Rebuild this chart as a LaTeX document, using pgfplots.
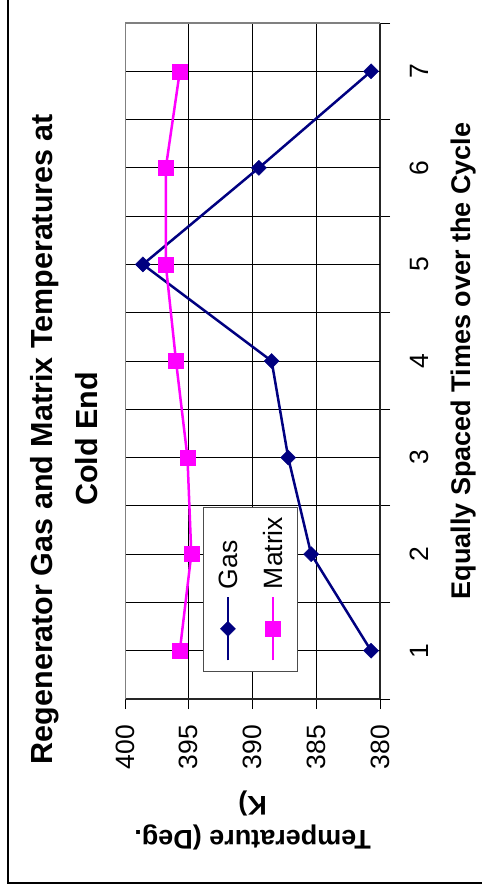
\documentclass[border=0pt]{standalone}
\usepackage{pgfplots}
\pgfplotsset{compat=1.18}
\usepackage{fontspec}
\setmainfont{Liberation Sans}
\definecolor{gasblue}{RGB}{0,0,128}
\definecolor{matmag}{RGB}{255,0,255}
\newcommand\tickfont{\fontsize{26.5}{30}\selectfont}
\newcommand\labfont{\bfseries\fontsize{27}{34}\selectfont}
\newcommand\titfont{\bfseries\fontsize{30.5}{36}\selectfont}
\begin{document}
\begin{tikzpicture}[x=1pt,y=1pt]
\useasboundingbox (0,0) rectangle (482,892);
\draw[line width=2.7pt] (8,893) -- (8,9) -- (483,9);
\begin{scope}[rotate=90,transform shape]
\begin{axis}[
  at={(193pt,-380pt)}, anchor=south west,
  scale only axis, width=676pt, height=255pt,
  xmin=0.5, xmax=7.5, ymin=380, ymax=400,
  axis x line*=bottom, axis y line*=left,
  axis line style={black!85, line width=1.5pt},
  /pgf/number format/assume math mode=true,
  xtick={0.5,1.5,...,7.5},
  xticklabels={},
  extra x ticks={1,2,3,4,5,6,7},
  extra x tick labels={1,2,3,4,5,6,7},
  extra x tick style={grid=major, major tick length=0pt},
  ytick={380,385,...,400},
  tick align=outside, major tick length=10pt,
  tick style={black, line width=0.8pt},
  ymajorgrids, xmajorgrids,
  major grid style={black, line width=0.8pt},
  tick label style={font=\tickfont},
  xticklabel style={anchor=north, inner sep=0pt, yshift=-30pt, font=\tickfont},
  yticklabel style={anchor=east, inner sep=0pt, xshift=-16pt, font=\tickfont},
  label style={font=\labfont},
  xlabel={Equally Spaced Times over the Cycle},
  xlabel style={at={(axis description cs:0.5,0)}, anchor=base, yshift=-90pt},
  ylabel={Temperature (Deg.\\K)},
  ylabel style={at={(axis description cs:-0.179,0.5)}, anchor=center, align=center},
  legend style={at={(axis description cs:0.040,0.694)}, anchor=north west,
    draw=black!70, line width=0.8pt, inner xsep=10pt, inner ysep=15pt,
    row sep=26pt, column sep=7pt,
    nodes={inner sep=0pt, text height=19pt, text depth=0pt, font=\tickfont},
    font=\tickfont, cells={anchor=west}},
  legend image code/.code={\draw[mark repeat=2,mark phase=2,#1] plot coordinates {(0pt,0pt) (31.5pt,0pt) (63pt,0pt)};},
]
\addplot[gasblue, line width=2.5pt, mark=square*, mark size=5.3pt, mark options={rotate=45, solid, line width=0.5pt}]
  coordinates {(1,380.7) (2,385.4) (3,387.2) (4,388.5) (5,398.6) (6,389.5) (7,380.7)};
\addlegendentry{Gas}
\addplot[matmag, line width=2.5pt, mark=square*, mark size=7.5pt, mark options={solid, line width=0.5pt}]
  coordinates {(1,395.7) (2,394.8) (3,395.1) (4,396.0) (5,396.8) (6,396.8) (7,395.7)};
\addlegendentry{Matrix}
\draw[black!50, line width=1.5pt] (rel axis cs:0,1) -- (rel axis cs:1,1) -- (rel axis cs:1,0);
\end{axis}
\node[anchor=base, font=\titfont] at (453,-52) {Regenerator Gas and Matrix Temperatures at};
\node[anchor=base, font=\titfont] at (453,-97) {Cold End};
\end{scope}
\end{tikzpicture}
\end{document}
